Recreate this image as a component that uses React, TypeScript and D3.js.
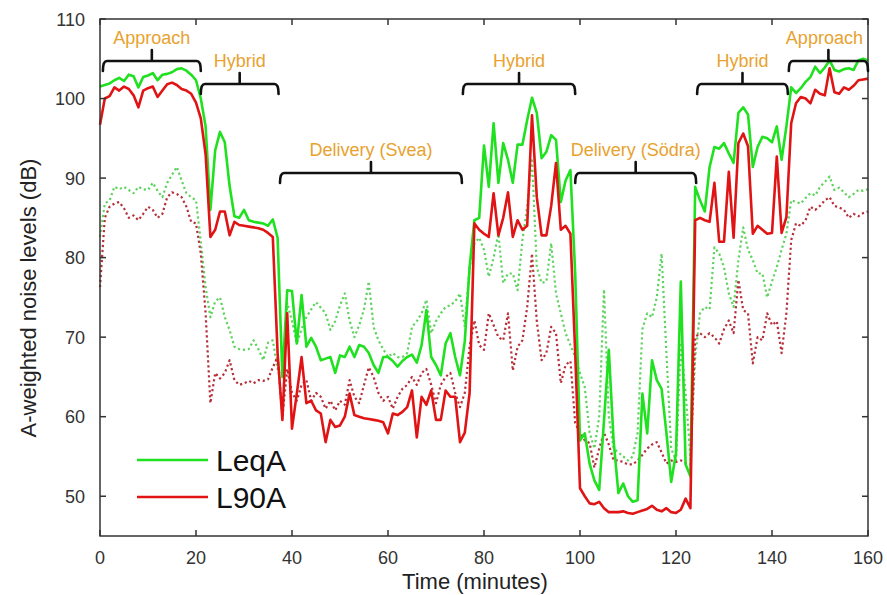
import { useEffect, useRef } from 'react';
import * as d3 from 'd3';

// time axis, one reading per minute
const minutes = d3.range(0, 161);

// location 1 (solid)
const leqA = [
  101.5, 101.7, 101.9, 102.3, 102.6, 102.2, 103.0, 102.8, 101.4, 102.7,
  102.9, 103.2, 102.3, 103.0, 103.1, 103.3, 103.7, 103.8, 103.5, 103.0,
  102.3, 100.0, 96.5, 86.0, 93.5, 95.8, 94.5, 89.0, 85.2, 85.0,
  86.0, 84.7, 84.5, 84.4, 84.3, 84.0, 84.8, 82.5, 65.0, 75.9,
  75.8, 69.2, 75.3, 68.8, 69.9, 68.8, 67.1, 67.3, 67.5, 65.5,
  67.7, 67.5, 68.8, 67.5, 69.0, 68.8, 68.0, 66.5, 65.5, 67.5,
  67.5, 67.0, 66.3, 67.0, 67.5, 67.8, 66.8, 69.0, 73.4, 67.5,
  66.5, 65.2, 69.2, 70.5, 67.5, 65.2, 69.5, 78.8, 84.7, 85.0,
  94.1, 88.9, 96.9, 89.4, 94.4, 92.3, 89.4, 94.2, 94.2, 97.3,
  100.1, 98.2, 92.5, 93.3, 95.4, 94.8, 87.0, 89.7, 91.0, 78.0,
  57.0, 57.9, 54.1, 52.0, 50.8, 59.5, 68.4, 57.0, 50.4, 51.6,
  50.0, 49.3, 49.5, 62.9, 57.9, 67.1, 64.6, 63.5, 58.0, 51.8,
  55.4, 77.0, 54.0, 52.5, 88.9, 87.2, 85.8, 91.4, 93.9, 93.7,
  94.4, 93.1, 91.9, 98.2, 98.9, 98.0, 91.4, 93.9, 95.2, 95.0,
  94.5, 96.5, 92.3, 96.5, 101.4, 100.7, 101.3, 102.1, 102.7, 104.0,
  103.2, 103.9, 104.8, 103.6, 103.4, 103.7, 103.8, 103.6, 104.8, 105.0,
  104.8,
];

const l90A = [
  96.7, 100.0, 100.3, 101.4, 101.0, 101.5, 101.2, 100.4, 98.9, 101.0,
  101.3, 101.5, 100.2, 101.0, 101.8, 102.0, 101.7, 101.2, 101.0, 100.6,
  99.5, 97.5, 93.0, 82.6, 83.5, 85.8, 85.8, 82.8, 84.5, 84.1,
  84.0, 83.9, 83.8, 83.7, 83.5, 83.1, 82.6, 68.0, 59.6, 73.0,
  58.5, 62.9, 67.5, 61.7, 62.0, 60.8, 60.4, 56.8, 59.6, 58.7,
  58.9, 60.0, 62.9, 60.2, 60.0, 59.8, 59.7, 59.6, 59.5, 59.3,
  57.9, 60.4, 60.2, 60.6, 61.2, 63.3, 57.4, 62.5, 61.5, 63.3,
  59.6, 59.6, 63.3, 62.5, 62.5, 56.8, 58.0, 63.0, 84.3, 83.5,
  83.0, 82.6, 88.1, 82.8, 85.0, 88.2, 82.6, 84.7, 83.5, 84.0,
  97.9, 87.6, 82.8, 82.8, 86.5, 91.9, 83.5, 84.0, 83.0, 68.0,
  51.0, 50.0, 49.1, 49.0, 49.3, 48.5, 48.0, 48.0, 48.0, 48.1,
  47.9, 47.8, 48.0, 48.2, 48.4, 48.8, 48.3, 48.1, 48.5, 48.0,
  47.9, 48.3, 49.7, 48.5, 84.7, 85.0, 84.7, 84.5, 89.4, 82.0,
  82.0, 90.8, 82.5, 94.4, 95.6, 94.0, 83.0, 84.0, 83.5, 83.0,
  83.1, 92.7, 83.1, 85.1, 96.9, 99.4, 100.2, 100.0, 99.4, 101.1,
  100.6, 100.4, 103.8, 100.8, 100.6, 101.4, 101.1, 101.6, 102.3, 102.4,
  102.5,
];

// location 2 (dotted)
const leqA2 = [
  82.6, 86.8, 87.2, 88.9, 88.6, 88.9, 88.5, 88.1, 88.9, 88.6,
  88.5, 89.4, 88.4, 87.6, 89.4, 90.4, 91.4, 89.7, 88.1, 87.6,
  87.2, 82.0, 76.3, 72.5, 74.5, 75.0, 72.5, 70.9, 68.8, 68.5,
  68.4, 68.5, 69.6, 68.5, 67.1, 69.3, 69.6, 66.0, 65.5, 74.3,
  72.0, 69.2, 71.0, 72.5, 73.5, 74.4, 73.7, 73.0, 70.9, 72.0,
  74.0, 75.5, 72.1, 70.0, 71.5, 73.5, 77.0, 71.3, 69.6, 68.5,
  67.5, 68.0, 67.5, 67.5, 68.0, 71.3, 72.0, 73.0, 74.7, 70.5,
  72.0, 73.0, 73.8, 74.0, 74.5, 75.5, 71.3, 78.8, 81.8, 82.5,
  81.0, 77.6, 80.0, 83.0, 76.8, 78.0, 78.0, 75.9, 82.2, 86.4,
  92.5, 78.8, 76.8, 77.0, 81.8, 75.5, 73.0, 70.5, 69.0, 67.5,
  65.5, 63.7, 58.0, 56.0, 60.0, 76.0, 60.0, 56.0, 55.5, 55.0,
  54.5, 55.0, 58.0, 71.0, 73.0, 72.5, 75.0, 80.5, 68.0, 56.0,
  54.5, 69.0, 63.0, 55.0, 67.5, 73.0, 73.8, 73.5, 81.3, 80.5,
  78.8, 75.5, 73.8, 79.7, 83.8, 81.0, 79.7, 78.0, 78.0, 75.0,
  77.0, 78.8, 81.0, 83.0, 87.2, 87.0, 86.8, 87.5, 88.1, 87.8,
  88.9, 89.5, 90.2, 88.5, 88.8, 88.2, 87.6, 88.0, 88.5, 88.4,
  88.6,
];

const l90A2 = [
  76.3, 85.0, 86.4, 86.8, 87.0, 86.2, 85.0, 85.3, 84.7, 85.5,
  86.4, 86.0, 85.0, 85.5, 87.6, 88.2, 88.0, 87.6, 86.4, 84.5,
  84.3, 80.5, 73.0, 61.7, 65.5, 64.8, 65.5, 67.1, 64.6, 64.0,
  64.2, 64.5, 64.2, 64.6, 64.5, 64.7, 66.2, 67.5, 60.0, 66.0,
  63.0, 62.0, 64.0, 64.6, 62.0, 63.0, 62.5, 61.0, 62.0, 60.8,
  62.0, 61.5, 64.6, 62.5, 61.7, 64.0, 66.2, 65.0, 63.0, 62.0,
  62.5, 61.0, 62.5, 63.5, 64.0, 65.0, 64.0, 65.5, 66.0, 64.0,
  61.7, 64.0, 65.0, 65.5, 63.0, 61.2, 63.0, 68.8, 72.1, 69.0,
  68.4, 73.0, 71.5, 70.0, 69.6, 73.0, 65.8, 68.8, 69.6, 73.8,
  80.5, 72.0, 67.1, 68.0, 71.3, 70.5, 64.2, 66.5, 67.0, 59.2,
  58.0, 57.0, 56.7, 53.6, 56.0, 58.0, 56.5, 54.5, 54.5, 54.3,
  54.0, 54.0, 54.5, 55.2, 56.0, 56.5, 56.8, 55.5, 54.1, 54.5,
  54.3, 54.5, 54.2, 54.0, 70.0, 70.5, 70.0, 70.5, 70.0, 69.2,
  71.0, 72.1, 70.5, 77.2, 73.4, 73.0, 66.7, 70.0, 69.6, 73.0,
  71.5, 72.0, 68.0, 73.0, 82.2, 84.3, 84.0, 84.7, 86.4, 86.0,
  86.5, 87.2, 87.6, 86.5, 86.3, 86.0, 85.0, 85.5, 85.2, 85.6,
  85.8,
];

const xTicks = [0, 20, 40, 60, 80, 100, 120, 140, 160];
const yTicks = [50, 60, 70, 80, 90, 100, 110];

// campaign phases (minutes) and the bracket row they sit on
const phaseLabels = ['Approach', 'Hybrid', 'Delivery (Svea)', 'Hybrid', 'Delivery (Södra)', 'Hybrid', 'Approach'];
const phaseStart = [0.6, 21, 37.5, 75.6, 99, 124.4, 143.5];
const phaseEnd = [21, 37.2, 75.4, 99, 124.2, 143.3, 160];
const phaseRow = [0, 1, 2, 1, 2, 1, 0];

const W = 887;
const H = 595;
const FONT = '"Liberation Sans", Arial, Helvetica, sans-serif';

const App = () => {
  const svgRef = useRef<SVGSVGElement | null>(null);

  useEffect(() => {
    const svg = d3.select(svgRef.current);
    svg.selectAll('*').remove();

    const x = d3.scaleLinear().domain([0, 160]).range([100, 868]);
    const y = d3.scaleLinear().domain([45, 110]).range([536, 19]);
    const ink = '#333';

    const line = (vals: number[]) =>
      d3.line<number>()
        .x((_, i) => x(minutes[i]))
        .y(d => y(d))(vals);

    const series = [
      { vals: leqA2, color: '#5fd35f', dash: '2.2,2.8', width: 2.2 },
      { vals: l90A2, color: '#b5303a', dash: '2.2,2.8', width: 2.2 },
      { vals: leqA, color: '#1fe11f', dash: null, width: 2.6 },
      { vals: l90A, color: '#e01414', dash: null, width: 2.6 },
    ];

    series.forEach(s => {
      svg.append('path')
        .attr('d', line(s.vals))
        .attr('fill', 'none')
        .attr('stroke', s.color)
        .attr('stroke-width', s.width)
        .attr('stroke-linejoin', 'round')
        .attr('stroke-dasharray', s.dash);
    });

    // frame
    svg.append('rect')
      .attr('x', x(0)).attr('y', y(110))
      .attr('width', x(160) - x(0)).attr('height', y(45) - y(110))
      .attr('fill', 'none').attr('stroke', ink).attr('stroke-width', 1.5);

    const tick = 6;
    xTicks.forEach(t => {
      svg.append('line')
        .attr('x1', x(t)).attr('x2', x(t))
        .attr('y1', y(45)).attr('y2', y(45) - tick)
        .attr('stroke', ink).attr('stroke-width', 1.5);
      svg.append('line')
        .attr('x1', x(t)).attr('x2', x(t))
        .attr('y1', y(110)).attr('y2', y(110) + tick)
        .attr('stroke', ink).attr('stroke-width', 1.5);
      svg.append('text')
        .attr('x', x(t)).attr('y', 564)
        .attr('text-anchor', 'middle')
        .attr('font-family', FONT).attr('font-size', 18).attr('fill', ink)
        .text(t);
    });

    yTicks.forEach(t => {
      svg.append('line')
        .attr('x1', x(0)).attr('x2', x(0) + tick)
        .attr('y1', y(t)).attr('y2', y(t))
        .attr('stroke', ink).attr('stroke-width', 1.5);
      svg.append('line')
        .attr('x1', x(160)).attr('x2', x(160) - tick)
        .attr('y1', y(t)).attr('y2', y(t))
        .attr('stroke', ink).attr('stroke-width', 1.5);
      svg.append('text')
        .attr('x', 85).attr('y', y(t) + 6.5)
        .attr('text-anchor', 'end')
        .attr('font-family', FONT).attr('font-size', 18).attr('fill', ink)
        .text(t);
    });

    svg.append('text')
      .attr('x', 475).attr('y', 589)
      .attr('text-anchor', 'middle')
      .attr('font-family', FONT).attr('font-size', 22).attr('fill', '#222')
      .text('Time (minutes)');

    svg.append('text')
      .attr('transform', 'translate(36,298) rotate(-90)')
      .attr('text-anchor', 'middle')
      .attr('font-family', FONT).attr('font-size', 22).attr('fill', '#222')
      .text('A-weighted noise levels (dB)');

    // phase brackets
    const rowY = [61, 84, 173];
    phaseLabels.forEach((label, i) => {
      const x0 = x(phaseStart[i]);
      const x1 = x(phaseEnd[i]);
      const xc = (x0 + x1) / 2;
      const by = rowY[phaseRow[i]];
      svg.append('path')
        .attr('d', `M${x0},${by + 10} Q${x0},${by} ${x0 + 4},${by} L${x1 - 4},${by} Q${x1},${by} ${x1},${by + 10} M${xc},${by} L${xc},${by - 11}`)
        .attr('fill', 'none').attr('stroke', '#111').attr('stroke-width', 2.6)
        .attr('stroke-linecap', 'round');
      svg.append('text')
        .attr('x', i === 6 ? xc - 4 : xc).attr('y', by - 17)
        .attr('text-anchor', 'middle')
        .attr('font-family', FONT).attr('font-size', 18).attr('fill', '#e8a22e')
        .text(label);
    });

    // legend
    const legend = [
      { name: 'LeqA', color: '#1fe11f', ly: 460 },
      { name: 'L90A', color: '#e01414', ly: 497 },
    ];
    legend.forEach(l => {
      svg.append('line')
        .attr('x1', 137).attr('x2', 208)
        .attr('y1', l.ly).attr('y2', l.ly)
        .attr('stroke', l.color).attr('stroke-width', 2.6);
      svg.append('text')
        .attr('x', 216).attr('y', l.ly + 10.5)
        .attr('font-family', FONT).attr('font-size', 30).attr('fill', '#111')
        .text(l.name);
    });
  }, []);

  return (
    <svg
      ref={svgRef}
      width={W}
      height={H}
      style={{ position: 'absolute', left: 0, top: 0, background: '#fff' }}
    />
  );
};

export default App;
